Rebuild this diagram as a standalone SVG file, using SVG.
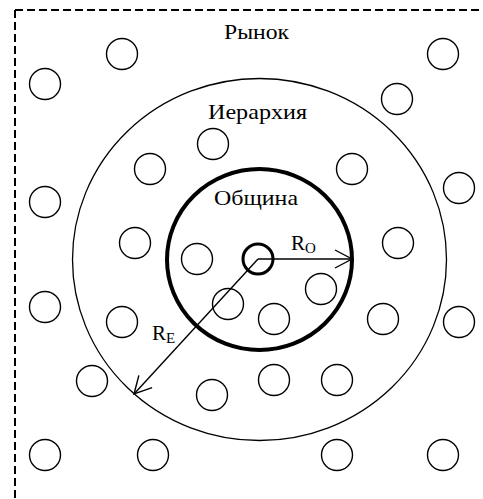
<svg xmlns="http://www.w3.org/2000/svg" width="483" height="499" viewBox="0 0 483 499">
<style>
.bg{fill:#fff}
.dash{fill:none;stroke:#000;stroke-width:2;stroke-dasharray:8 4}
.n{fill:none;stroke:#000;stroke-width:1.4}
.outer{fill:none;stroke:#000;stroke-width:1.3}
.inner{fill:none;stroke:#000;stroke-width:4}
.core{fill:none;stroke:#000;stroke-width:3}
.ar{fill:none;stroke:#000;stroke-width:1.4}
.t{font-family:"Liberation Serif","Times New Roman",serif;font-size:21px;fill:#000}
.s{font-family:"Liberation Serif","Times New Roman",serif;font-size:15px;fill:#000}
</style>
<defs>
<marker id="arr" markerUnits="userSpaceOnUse" markerWidth="22" markerHeight="22" refX="18" refY="10" orient="auto" overflow="visible">
<path d="M1,1 L18,10 L1,19" fill="none" stroke="#000" stroke-width="1.4"/>
</marker>
</defs>
<rect class="bg" x="0" y="0" width="483" height="499"/>
<g id="border">
<path class="dash" d="M15,10 L483,10 M15,10 L15,499"/>
</g>
<g id="market">
<text class="t" x="256.5" y="38.5" text-anchor="middle" textLength="65" lengthAdjust="spacingAndGlyphs">Рынок</text>
</g>
<g id="hierarchy">
<ellipse class="outer" cx="259.5" cy="259.5" rx="187" ry="181"/>
<text class="t" x="257.5" y="118.5" text-anchor="middle" textLength="99" lengthAdjust="spacingAndGlyphs">Иерархия</text>
</g>
<g id="community">
<ellipse class="inner" cx="259.5" cy="259.5" rx="92.5" ry="90.5"/>
<text class="t" x="256" y="205" text-anchor="middle" textLength="84" lengthAdjust="spacingAndGlyphs">Община</text>
</g>
<g id="core">
<circle class="core" cx="258" cy="259" r="15"/>
</g>
<g id="agents">
<circle class="n" cx="122" cy="54" r="15.5"/>
<circle class="n" cx="45" cy="84" r="15.5"/>
<circle class="n" cx="443" cy="54" r="15.5"/>
<circle class="n" cx="397" cy="99" r="15.5"/>
<circle class="n" cx="213" cy="144" r="15.5"/>
<circle class="n" cx="150" cy="169" r="15.5"/>
<circle class="n" cx="352" cy="169" r="15.5"/>
<circle class="n" cx="459" cy="188" r="15.5"/>
<circle class="n" cx="45" cy="202" r="15.5"/>
<circle class="n" cx="135" cy="243" r="15.5"/>
<circle class="n" cx="398" cy="243" r="15.5"/>
<circle class="n" cx="197" cy="259" r="15.5"/>
<circle class="n" cx="321" cy="289" r="15.5"/>
<circle class="n" cx="228" cy="304" r="15.5"/>
<circle class="n" cx="274" cy="319" r="15.5"/>
<circle class="n" cx="45" cy="307" r="15.5"/>
<circle class="n" cx="122" cy="322" r="15.5"/>
<circle class="n" cx="383" cy="319" r="15.5"/>
<circle class="n" cx="459" cy="322" r="15.5"/>
<circle class="n" cx="92" cy="381" r="15.5"/>
<circle class="n" cx="212" cy="395" r="15.5"/>
<circle class="n" cx="274" cy="380" r="15.5"/>
<circle class="n" cx="337" cy="380" r="15.5"/>
<circle class="n" cx="45" cy="455" r="15.5"/>
<circle class="n" cx="153" cy="455" r="15.5"/>
<circle class="n" cx="337" cy="455" r="15.5"/>
<circle class="n" cx="443" cy="455" r="15.5"/>
</g>
<g id="connectors">
<line class="ar" x1="258" y1="259" x2="352" y2="259" marker-end="url(#arr)"/>
<line class="ar" x1="258" y1="259" x2="134" y2="394" marker-end="url(#arr)"/>
</g>
<g id="labels">
<text class="t" x="291" y="250">R<tspan class="s" y="253">O</tspan></text>
<text class="t" x="152" y="340">R<tspan class="s" y="343">E</tspan></text>
</g>
</svg>
